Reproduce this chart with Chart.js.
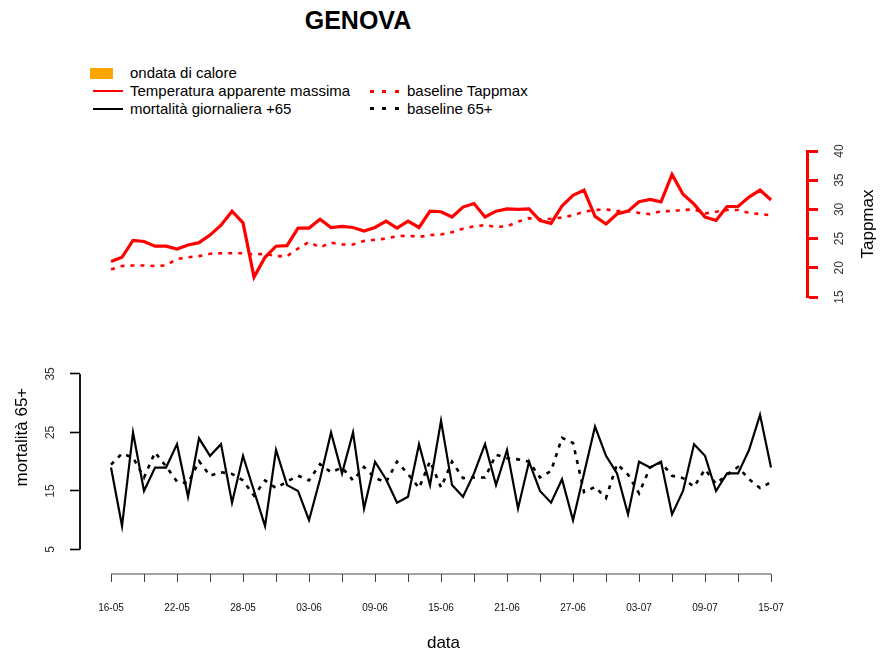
<!DOCTYPE html>
<html>
<head>
<meta charset="utf-8">
<script src="https://cdn.jsdelivr.net/npm/chart.js@4.4.0/dist/chart.umd.min.js"></script>
<style>
  body { margin: 0; background: #fff; font-family: "Liberation Sans", Arial, sans-serif; }
  #wrap { position: relative; width: 881px; height: 654px; overflow: hidden; }
  canvas { position: absolute; left: 0; }
  #title { position: absolute; left: 258px; top: 5px; width: 200px; text-align: center;
           font-weight: bold; font-size: 25px; line-height: 30px; }
  #tappLabel { position: absolute; left: 828px; top: 214px; width: 80px; height: 20px; line-height: 20px;
               text-align: center; font-size: 17px; transform: rotate(-90deg); }
  .lg { position: absolute; font-size: 15px; line-height: 18px; white-space: nowrap; }
  .sw { position: absolute; }
</style>
</head>
<body>
<div id="wrap">
  <div id="title">GENOVA</div>
  <div id="legend"></div>
  <canvas id="topChart" width="881" height="320" style="top:0"></canvas>
  <canvas id="bottomChart" width="881" height="374" style="top:280px"></canvas>
  <div id="tappLabel">Tappmax</div>
</div>
<script>
// days from 16 May to 15 July
const dates = [
  '16-05', '17-05', '18-05', '19-05', '20-05', '21-05', '22-05', '23-05', '24-05', '25-05',
  '26-05', '27-05', '28-05', '29-05', '30-05', '31-05', '01-06', '02-06', '03-06', '04-06',
  '05-06', '06-06', '07-06', '08-06', '09-06', '10-06', '11-06', '12-06', '13-06', '14-06',
  '15-06', '16-06', '17-06', '18-06', '19-06', '20-06', '21-06', '22-06', '23-06', '24-06',
  '25-06', '26-06', '27-06', '28-06', '29-06', '30-06', '01-07', '02-07', '03-07', '04-07',
  '05-07', '06-07', '07-07', '08-07', '09-07', '10-07', '11-07', '12-07', '13-07', '14-07',
  '15-07'
];

const tappmax = [
  21.1, 21.8, 24.7, 24.5, 23.7, 23.7, 23.2, 23.9, 24.3, 25.6,
  27.3, 29.7, 27.7, 18.4, 21.8, 23.7, 23.8, 26.8, 26.8, 28.3,
  26.9, 27.1, 26.9, 26.3, 26.9, 28.0, 26.8, 28.0, 26.9, 29.7,
  29.6, 28.7, 30.4, 31.0, 28.7, 29.7, 30.1, 30.0, 30.1, 28.1,
  27.6, 30.6, 32.4, 33.3, 28.8, 27.5, 29.2, 29.7, 31.3, 31.7,
  31.3, 36.0, 32.6, 30.9, 28.7, 28.1, 30.5, 30.5, 32.1, 33.3,
  31.6
];

const baselineTapp = [
  19.7, 20.3, 20.4, 20.4, 20.3, 20.4, 21.5, 21.8, 22.0, 22.4,
  22.5, 22.5, 22.5, 22.3, 22.4, 22.0, 22.0, 23.3, 24.4, 23.5,
  24.3, 24.0, 24.0, 24.6, 24.8, 25.0, 25.4, 25.5, 25.3, 25.6,
  25.7, 26.1, 26.7, 27.1, 27.3, 27.0, 27.1, 27.9, 28.5, 28.3,
  28.4, 28.6, 29.0, 29.6, 29.9, 30.0, 29.7, 29.7, 29.4, 29.2,
  29.7, 29.7, 29.9, 30.0, 29.3, 29.6, 29.9, 29.9, 29.4, 29.2,
  29.0
];

const mortality = [
  19, 9, 25, 15, 19, 19, 23, 14, 24, 21,
  23, 13, 21, 15, 9, 22, 16, 15, 10, 17,
  25, 18, 25, 12, 20, 17, 13, 14, 23, 16,
  27, 16, 14, 18, 23, 16, 22, 12, 20, 15,
  13, 17, 10, 18, 26, 21, 18, 11, 20, 19,
  20, 11, 15, 23, 21, 15, 18, 18, 22, 28,
  19
];

const baseline65 = [
  19.5, 21.4, 20.7, 17.3, 21.6, 19.2, 16.6, 16.3, 20.1, 17.6,
  18.2, 17.9, 16.8, 14.2, 16.8, 15.5, 16.6, 17.6, 16.8, 19.6,
  18.2, 19.0, 16.8, 19.1, 17.2, 16.5, 20.0, 17.9, 15.5, 20.1,
  15.6, 20.0, 17.2, 17.3, 17.3, 21.2, 20.6, 20.4, 20.0, 17.3,
  18.4, 24.1, 23.2, 14.8, 15.7, 13.8, 19.6, 17.8, 14.6, 19.0,
  19.9, 17.6, 17.2, 15.7, 18.7, 16.2, 17.8, 19.1, 17.0, 15.5,
  16.5
];

// no heat-wave days in this period
const heatwaveDates = [];

const tappTicks = [15, 20, 25, 30, 35, 40];
const mortTicks = [5, 15, 25, 35];
const dayTickStep = 3;
const dayLabelStep = 6;

Chart.defaults.font.family = "'Liberation Sans', Arial, sans-serif";

const xMin = -2.82, xMax = 63.27;
const pts = arr => arr.map((v, i) => ({x: i, y: v}));
const dayTicks = dates.map((d, i) => i).filter(i => i % dayTickStep === 0);

// axis lines drawn only between first and last tick, like R's axis()
const axisLines = {
    id: 'axisLines',
    afterDatasetsDraw(chart, args, opts) {
        const ctx = chart.ctx;
        (opts.lines || []).forEach(function (l) {
            const sc = chart.scales[l.scale];
            ctx.save();
            ctx.strokeStyle = l.color;
            ctx.lineWidth = l.width;
            ctx.beginPath();
            if (sc.isHorizontal()) {
                ctx.moveTo(sc.getPixelForValue(l.from), sc.top);
                ctx.lineTo(sc.getPixelForValue(l.to), sc.top);
            } else {
                ctx.moveTo(sc.right, sc.getPixelForValue(l.from));
                ctx.lineTo(sc.right, sc.getPixelForValue(l.to));
            }
            ctx.stroke();
            ctx.restore();
        });
    }
};

const heatDs = {
    type: 'bar',
    label: 'ondata di calore',
    data: dates.map((d, i) => ({x: i, y: heatwaveDates.includes(d) ? 40 : null})),
    backgroundColor: '#FFA500',
    barPercentage: 1,
    categoryPercentage: 1
};
const tempDs = {
    label: 'Temperatura apparente massima',
    data: pts(tappmax),
    borderColor: '#FF0000',
    borderWidth: 3.2,
    pointRadius: 0
};
const tempBaseDs = {
    label: 'baseline Tappmax',
    data: pts(baselineTapp),
    borderColor: '#FF0000',
    borderWidth: 2.6,
    borderDash: [4, 6],
    pointRadius: 0
};
const mortDs = {
    label: 'mortalità giornaliera +65',
    data: pts(mortality),
    borderColor: '#000000',
    borderWidth: 2.2,
    pointRadius: 0
};
const mortBaseDs = {
    label: 'baseline 65+',
    data: pts(baseline65),
    borderColor: '#000000',
    borderWidth: 2.6,
    borderDash: [4, 6],
    pointRadius: 0
};

new Chart(document.getElementById('topChart'), {
    type: 'line',
    data: {datasets: [heatDs, tempDs, tempBaseDs]},
    options: {
        responsive: false,
        animation: false,
        events: [],
        layout: {padding: {left: 80, top: 151, bottom: 23, right: 0}},
        plugins: {legend: {display: false}, title: {display: false}, tooltip: {enabled: false}},
        scales: {
            x: {type: 'linear', min: xMin, max: xMax, offset: false, display: false},
            y: {
                position: 'right',
                min: 15,
                max: 40,
                afterBuildTicks: s => { s.ticks = tappTicks.map(v => ({value: v})); },
                afterFit: s => { s.width = 74; },
                border: {display: true, color: '#FF0000', width: 3},
                grid: {drawOnChartArea: false, tickLength: 11, tickColor: '#FF0000', tickWidth: 3},
                ticks: {minRotation: 90, maxRotation: 90, crossAlign: 'center', padding: 15,
                        color: '#333', font: {size: 12}}
            }
        }
    }
});

new Chart(document.getElementById('bottomChart'), {
    type: 'line',
    data: {datasets: [mortDs, mortBaseDs]},
    plugins: [axisLines],
    options: {
        responsive: false,
        animation: false,
        events: [],
        layout: {padding: {left: 0, top: 18, bottom: 0, right: 74}},
        plugins: {
            legend: {display: false},
            title: {display: false},
            tooltip: {enabled: false},
            axisLines: {
                lines: [
                    {scale: 'x', from: 0, to: 60, color: '#444', width: 1},
                    {scale: 'y', from: 5, to: 35, color: '#000', width: 1.8}
                ]
            }
        },
        scales: {
            x: {
                type: 'linear',
                min: xMin,
                max: xMax,
                offset: false,
                afterBuildTicks: s => { s.ticks = dayTicks.map(v => ({value: v})); },
                afterFit: s => { s.height = 80; },
                border: {display: false},
                grid: {drawOnChartArea: false, tickLength: 8, tickColor: '#444', tickWidth: 1},
                ticks: {
                    autoSkip: false, minRotation: 0, maxRotation: 0, padding: 20,
                    color: '#111', font: {size: 10},
                    callback: v => (v % dayLabelStep === 0 ? dates[v] : '')
                },
                title: {display: true, text: 'data', color: '#000', font: {size: 17}, padding: {top: 0, bottom: 0}}
            },
            y: {
                position: 'left',
                min: 0.81,
                max: 47.6,
                afterBuildTicks: s => { s.ticks = mortTicks.map(v => ({value: v})); },
                afterFit: s => { s.width = 80; },
                border: {display: false},
                grid: {drawOnChartArea: false, tickLength: 10, tickColor: '#000', tickWidth: 1.6},
                ticks: {minRotation: 90, maxRotation: 90, crossAlign: 'center', padding: 13,
                        color: '#333', font: {size: 12}},
                title: {display: true, text: 'mortalità 65+', color: '#000', font: {size: 17},
                        padding: {top: 12, bottom: 0}}
            }
        }
    }
});

// legend in two columns, as in the original figure
const legendItems = [
    {ds: heatDs, col: 0, row: 0},
    {ds: tempDs, col: 0, row: 1},
    {ds: mortDs, col: 0, row: 2},
    {ds: tempBaseDs, col: 1, row: 1},
    {ds: mortBaseDs, col: 1, row: 2}
];
const colX = [93, 370];
const rowY = [73, 91, 108.5];
const legend = document.getElementById('legend');
legendItems.forEach(function (it) {
    const x = colX[it.col], y = rowY[it.row];
    const sw = document.createElement('div');
    sw.className = 'sw';
    if (it.ds.type === 'bar') {
        sw.style.cssText = 'left:' + (x - 3) + 'px;top:' + (y - 5.5) + 'px;width:23px;height:11px;background:' + it.ds.backgroundColor;
    } else if (it.ds.borderDash) {
        sw.style.cssText = 'left:' + x + 'px;top:' + (y - 1.5) + 'px;width:31px;height:3px;' +
            'background:repeating-linear-gradient(to right,' + it.ds.borderColor + ' 0 4px,transparent 4px 12.5px)';
    } else {
        sw.style.cssText = 'left:' + x + 'px;top:' + (y - 1) + 'px;width:30px;height:2px;background:' + it.ds.borderColor;
    }
    legend.appendChild(sw);
    const lb = document.createElement('div');
    lb.className = 'lg';
    lb.style.left = (x + 37) + 'px';
    lb.style.top = (y - 9) + 'px';
    lb.textContent = it.ds.label;
    legend.appendChild(lb);
});
</script>
</body>
</html>
